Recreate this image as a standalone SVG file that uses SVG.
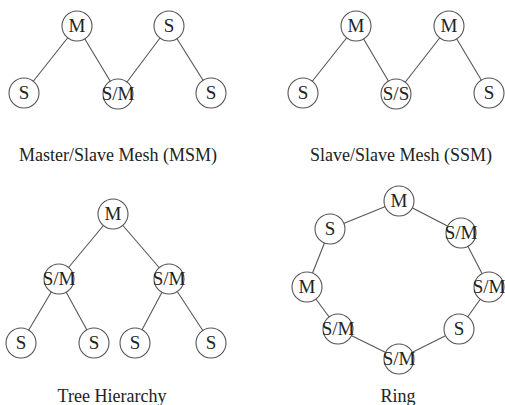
<svg xmlns="http://www.w3.org/2000/svg" width="505" height="405" viewBox="0 0 505 405">
<style>
.n circle{fill:#fff;stroke:#555;stroke-width:1.1}
.n text{font-family:"Liberation Serif","Times New Roman",serif;font-size:19px;fill:#222;text-anchor:middle}
.e line{stroke:#555;stroke-width:1.1}
.cap{font-family:"Liberation Serif","Times New Roman",serif;font-size:18px;fill:#222;text-anchor:middle}
</style>
<rect width="505" height="405" fill="#fff"/>
<g id="connectors" class="e">
<line x1="77" y1="26" x2="24" y2="93"/>
<line x1="77" y1="26" x2="118" y2="94"/>
<line x1="169" y1="26" x2="118" y2="94"/>
<line x1="169" y1="26" x2="211" y2="93"/>
<line x1="356" y1="26" x2="303" y2="93"/>
<line x1="356" y1="26" x2="396" y2="94"/>
<line x1="449" y1="26" x2="396" y2="94"/>
<line x1="449" y1="26" x2="489" y2="93"/>
<line x1="113" y1="214" x2="59" y2="279"/>
<line x1="113" y1="214" x2="169" y2="279"/>
<line x1="59" y1="279" x2="21" y2="343"/>
<line x1="59" y1="279" x2="94" y2="343"/>
<line x1="169" y1="279" x2="135" y2="343"/>
<line x1="169" y1="279" x2="211" y2="343"/>
<line x1="399" y1="201" x2="461" y2="233"/>
<line x1="461" y1="233" x2="489" y2="287"/>
<line x1="489" y1="287" x2="459" y2="329"/>
<line x1="459" y1="329" x2="399" y2="359"/>
<line x1="399" y1="359" x2="338" y2="329"/>
<line x1="338" y1="329" x2="307" y2="287"/>
<line x1="307" y1="287" x2="330" y2="229"/>
<line x1="330" y1="229" x2="399" y2="201"/>
</g>
<g id="msm-m" class="n"><circle cx="77" cy="26" r="15"/><text x="77" y="32">M</text></g>
<g id="msm-s1" class="n"><circle cx="24" cy="93" r="15"/><text x="24" y="99">S</text></g>
<g id="msm-sm" class="n"><circle cx="118" cy="94" r="15"/><text x="118" y="100">S/M</text></g>
<g id="msm-s2" class="n"><circle cx="169" cy="26" r="15"/><text x="169" y="32">S</text></g>
<g id="msm-s3" class="n"><circle cx="211" cy="93" r="15"/><text x="211" y="99">S</text></g>
<g id="ssm-m1" class="n"><circle cx="356" cy="26" r="15"/><text x="356" y="32">M</text></g>
<g id="ssm-s1" class="n"><circle cx="303" cy="93" r="15"/><text x="303" y="99">S</text></g>
<g id="ssm-ss" class="n"><circle cx="396" cy="94" r="15"/><text x="396" y="100">S/S</text></g>
<g id="ssm-m2" class="n"><circle cx="449" cy="26" r="15"/><text x="449" y="32">M</text></g>
<g id="ssm-s2" class="n"><circle cx="489" cy="93" r="15"/><text x="489" y="99">S</text></g>
<g id="tree-m" class="n"><circle cx="113" cy="214" r="15"/><text x="113" y="220">M</text></g>
<g id="tree-sm1" class="n"><circle cx="59" cy="279" r="15"/><text x="59" y="285">S/M</text></g>
<g id="tree-sm2" class="n"><circle cx="169" cy="279" r="15"/><text x="169" y="285">S/M</text></g>
<g id="tree-s1" class="n"><circle cx="21" cy="343" r="15"/><text x="21" y="349">S</text></g>
<g id="tree-s2" class="n"><circle cx="94" cy="343" r="15"/><text x="94" y="349">S</text></g>
<g id="tree-s3" class="n"><circle cx="135" cy="343" r="15"/><text x="135" y="349">S</text></g>
<g id="tree-s4" class="n"><circle cx="211" cy="343" r="15"/><text x="211" y="349">S</text></g>
<g id="ring-m1" class="n"><circle cx="399" cy="201" r="15"/><text x="399" y="207">M</text></g>
<g id="ring-sm1" class="n"><circle cx="461" cy="233" r="15"/><text x="461" y="239">S/M</text></g>
<g id="ring-sm2" class="n"><circle cx="489" cy="287" r="15"/><text x="489" y="293">S/M</text></g>
<g id="ring-s1" class="n"><circle cx="459" cy="329" r="15"/><text x="459" y="335">S</text></g>
<g id="ring-sm3" class="n"><circle cx="399" cy="359" r="15"/><text x="399" y="365">S/M</text></g>
<g id="ring-sm4" class="n"><circle cx="338" cy="329" r="15"/><text x="338" y="335">S/M</text></g>
<g id="ring-m2" class="n"><circle cx="307" cy="287" r="15"/><text x="307" y="293">M</text></g>
<g id="ring-s2" class="n"><circle cx="330" cy="229" r="15"/><text x="330" y="235">S</text></g>
<text class="cap" x="118" y="161">Master/Slave Mesh (MSM)</text>
<text class="cap" x="401" y="161">Slave/Slave Mesh (SSM)</text>
<text class="cap" x="112" y="402">Tree Hierarchy</text>
<text class="cap" x="398" y="402">Ring</text>
</svg>
